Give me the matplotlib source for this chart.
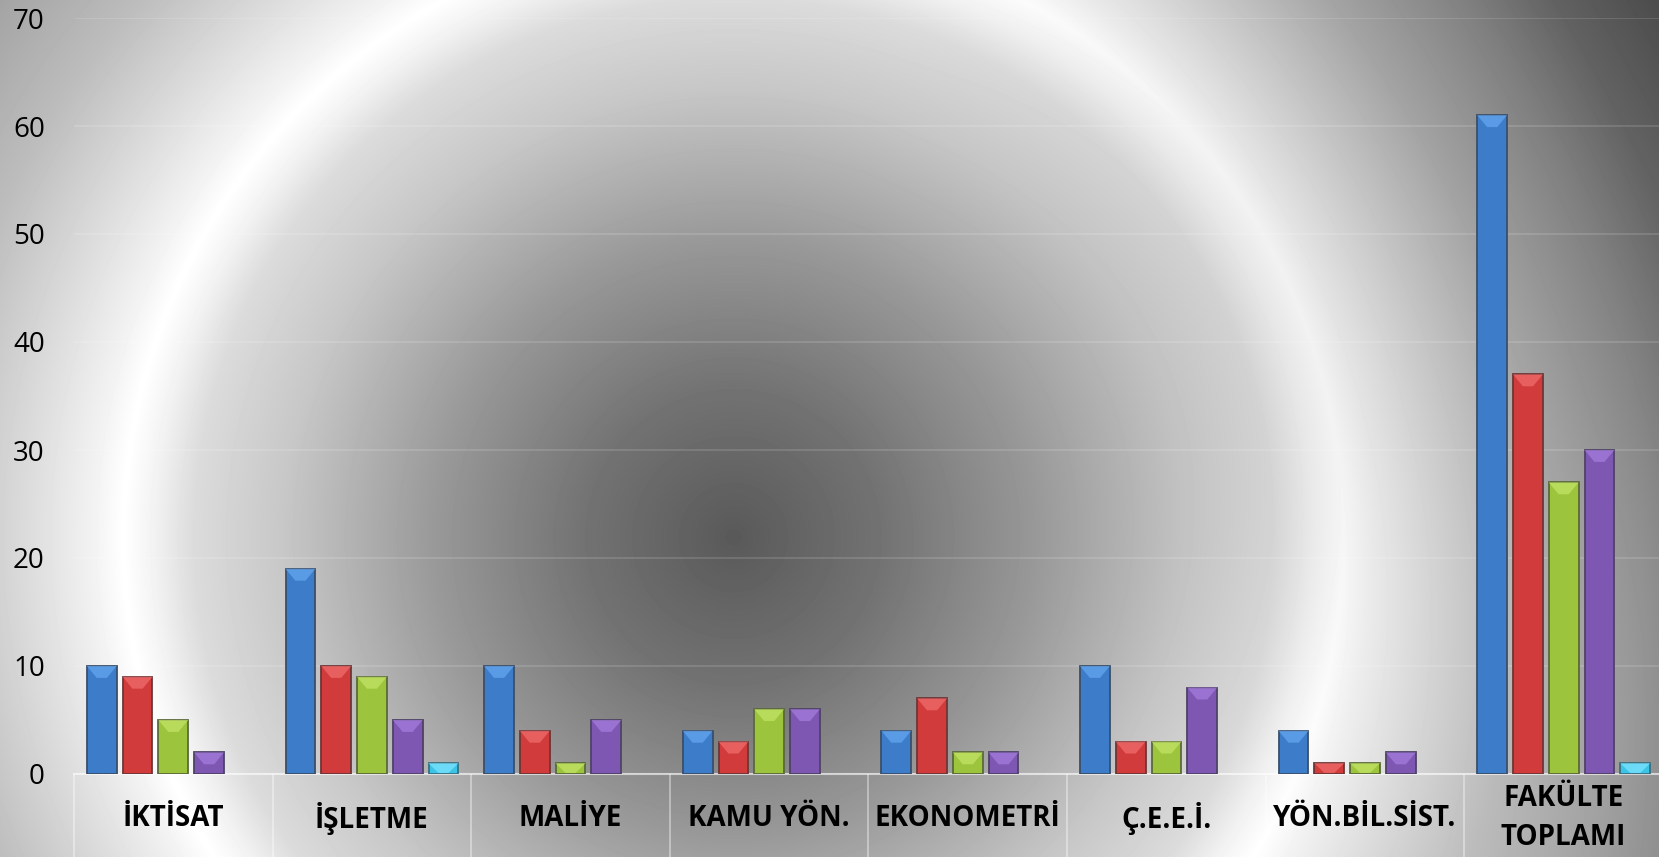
import numpy as np
import matplotlib
matplotlib.use('Agg')
import matplotlib.pyplot as plt
from matplotlib.patches import Polygon

categories = ['İKTİSAT', 'İŞLETME', 'MALİYE', 'KAMU YÖN.', 'EKONOMETRİ',
              'Ç.E.E.İ.', 'YÖN.BİL.SİST.', 'FAKÜLTE\nTOPLAMI']
s1 = [10, 19, 10, 4, 4, 10, 4, 61]
s2 = [9, 10, 4, 3, 7, 3, 1, 37]
s3 = [5, 9, 1, 6, 2, 3, 1, 27]
s4 = [2, 5, 5, 6, 2, 8, 2, 30]
s5 = [0, 1, 0, 0, 0, 0, 0, 1]
series = [s1, s2, s3, s4, s5]

faces = ['#3d7cc9', '#d13b3b', '#9cc43c', '#7e57b3', '#3cc4e6']
edges = ['#3a4f6a', '#6e3636', '#5a6a3a', '#4e4266', '#3a6f7e']
lights = ['#64a6f0', '#ef6c6c', '#c4e466', '#a47cdc', '#7ce4ff']

plt.rcParams['font.family'] = ['Open Sans', 'DejaVu Sans']

W, H = 1659, 857
fig = plt.figure(figsize=(W / 100, H / 100), dpi=100)

# radial background
yy, xx = np.mgrid[0:H, 0:W]
r = np.hypot(xx - 733, yy - 537)
pr = [0, 150, 300, 450, 540, 580, 610, 640, 700, 800, 910, 980, 1100]
pv = [0.35, 0.45, 0.6, 0.78, 0.86, 0.95, 1.0, 0.95, 0.87, 0.74, 0.64, 0.56, 0.5]
img = np.interp(r, pr, pv)
dark = 0.22 * np.clip((xx - 900) / 759, 0, 1) ** 1.5 * np.clip(1 - yy / H, 0, 1)
img = np.clip(img - dark, 0, 1)
bg = fig.add_axes([0, 0, 1, 1], zorder=0)
bg.imshow(img, cmap='gray', vmin=0, vmax=1, aspect='auto', interpolation='bilinear')
bg.axis('off')

ax = fig.add_axes([74 / W, 83 / H, 1589 / W, 756 / H], zorder=1)
ax.set_facecolor('none')

x = np.arange(len(categories))
w = 0.15
step = 0.18
for i, vals in enumerate(series):
    vals = np.array(vals, dtype=float)
    xs = x + (i - 2) * step
    m = vals > 0
    ax.bar(xs[m], vals[m], width=w, color=faces[i], edgecolor=edges[i],
           linewidth=1.3, zorder=3)
    for xc, v in zip(xs[m], vals[m]):
        d = min(1.1, v * 0.9)
        x0, x1 = xc - w / 2, xc + w / 2
        poly = Polygon([(x0, v), (x1, v), (x1 - w * 0.33, v - d), (x0 + w * 0.33, v - d)],
                       closed=True, facecolor=lights[i], edgecolor='none',
                       alpha=0.75, zorder=4)
        ax.add_patch(poly)

ax.set_xlim(-0.5, len(categories) - 0.5)
ax.set_ylim(0, 70)
ax.set_yticks(range(0, 71, 10))
ax.yaxis.grid(True, color='white', alpha=0.13, linewidth=1.5)
ax.set_axisbelow(True)
ax.tick_params(axis='y', length=0, pad=21, labelsize=20)

# category strip with separators
ax.set_xticks(np.arange(-0.5, len(categories), 1.0))
ax.set_xticklabels([])
ax.tick_params(axis='x', which='major', direction='out', length=62,
               color=(1, 1, 1, 0.45), width=1.2)
ax.set_xticks(x, minor=True)
ax.set_xticklabels(categories, minor=True, fontsize=20, fontweight='bold',
                   linespacing=1.45)
ax.tick_params(axis='x', which='minor', length=0, pad=32)
for lab in ax.get_xticklabels(minor=True):
    lab.set_va('center')

for s in ['top', 'right', 'left']:
    ax.spines[s].set_visible(False)
ax.spines['bottom'].set_color((1, 1, 1, 0.6))
ax.spines['bottom'].set_linewidth(1.5)

plt.savefig('out.png', dpi=100)
